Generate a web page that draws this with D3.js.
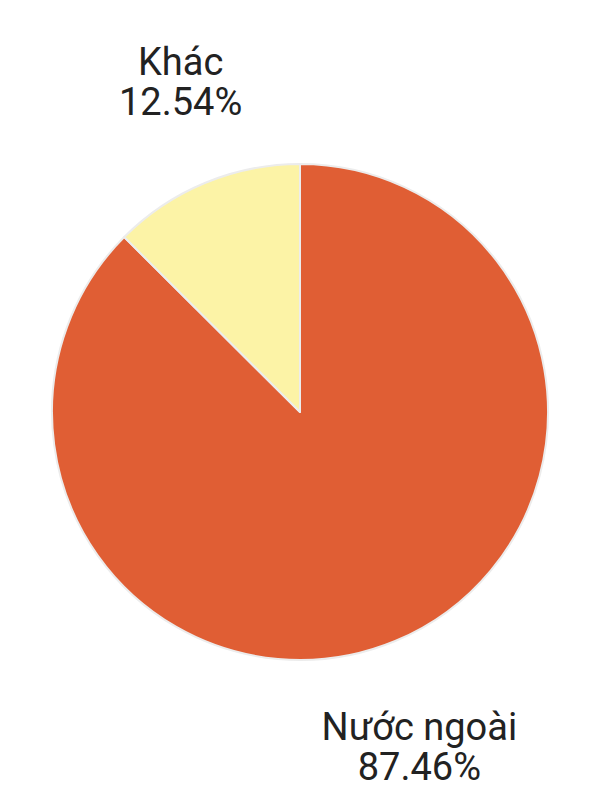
<!DOCTYPE html>
<html>
<head>
<meta charset="utf-8">
<script src="https://cdn.jsdelivr.net/npm/d3@7"></script>
<style>
  html, body { margin: 0; padding: 0; background: #ffffff; }
  svg { display: block; }
</style>
</head>
<body>
<svg id="chart" width="600" height="800"></svg>
<script>
const categories = ["Nước ngoài", "Khác"];
const values = [87.46, 12.54];
const valueLabels = ["87.46%", "12.54%"];
const colors = ["#E05E34", "#FCF3A6"];

const svg = d3.select("#chart");
const cx = 300, cy = 412, radius = 248;

const data = categories.map((c, i) => ({ name: c, value: values[i], label: valueLabels[i], color: colors[i] }));

const pie = d3.pie().sort(null).value(d => d.value);
const arcs = pie(data);
const arc = d3.arc().innerRadius(0).outerRadius(radius);

const g = svg.append("g").attr("transform", `translate(${cx},${cy})`);

g.selectAll("path.slice")
  .data(arcs)
  .enter().append("path")
  .attr("class", "slice")
  .attr("d", arc)
  .attr("fill", d => d.data.color)
  .attr("stroke", "#ececec")
  .attr("stroke-width", 2)
  .attr("stroke-linejoin", "round");

const labelR = 324;
const xFactor = 0.96;
const lineH = 40;
const capH = 27;
const labelDy = 2;

const lab = g.selectAll("text.lbl")
  .data(arcs)
  .enter().append("text")
  .attr("class", "lbl")
  .attr("text-anchor", "middle")
  .attr("font-family", "Roboto, 'Noto Sans', sans-serif")
  .attr("font-size", 38)
  .attr("fill", "#222222")
  .attr("transform", d => {
    const mid = (d.startAngle + d.endAngle) / 2;
    const x = labelR * Math.sin(mid) * xFactor;
    const y = -labelR * Math.cos(mid);
    // top labels sit above the point, bottom labels below it
    const y1 = (y < 0 ? y - lineH : y + capH) + labelDy;
    return `translate(${x},${y1})`;
  });

lab.append("tspan")
  .attr("x", 0)
  .attr("y", 0)
  .text(d => d.data.name);
lab.append("tspan")
  .attr("x", 0)
  .attr("y", lineH)
  .text(d => d.data.label);
</script>
</body>
</html>
